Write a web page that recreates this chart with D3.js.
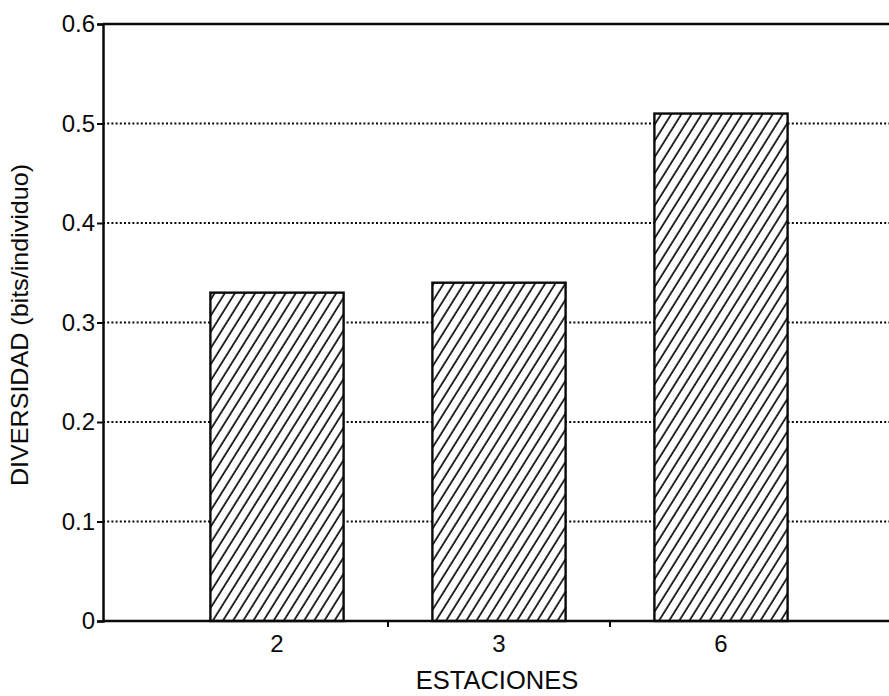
<!DOCTYPE html>
<html>
<head>
<meta charset="utf-8">
<script src="https://cdn.jsdelivr.net/npm/d3@7"></script>
<style>
  html, body { margin: 0; padding: 0; background: #fff; }
  svg { display: block; }
  text { font-family: "Liberation Sans", Arial, Helvetica, sans-serif; fill: #0a0a0a; }
</style>
</head>
<body>
<svg id="chart" width="889" height="696"></svg>
<script>
// Diversidad por estación
const estaciones = ["2", "3", "6"];
const diversidad = [0.33, 0.34, 0.51];
const yTicks = [0, 0.1, 0.2, 0.3, 0.4, 0.5, 0.6];
const yTickLabels = ["0", "0.1", "0.2", "0.3", "0.4", "0.5", "0.6"];
const xTitle = "ESTACIONES";
const yTitle = "DIVERSIDAD (bits/individuo)";

const svg = d3.select("#chart");
const plotLeft = 103, plotRight = 889, plotTop = 24, plotBottom = 621;
const ink = "#0a0a0a";

const x = d3.scaleBand()
  .domain(estaciones)
  .range([166, 832])
  .paddingInner(0.4)
  .paddingOuter(0.2);

const y = d3.scaleLinear().domain([0, 0.6]).range([plotBottom, plotTop]);

// diagonal hatch fill
const defs = svg.append("defs");
defs.append("pattern")
  .attr("id", "hatch")
  .attr("patternUnits", "userSpaceOnUse")
  .attr("width", 8.6)
  .attr("height", 8.6)
  .attr("patternTransform", "rotate(32)")
  .append("line")
  .attr("x1", 2).attr("y1", -2)
  .attr("x2", 2).attr("y2", 12)
  .attr("stroke", ink)
  .attr("stroke-width", 1.7);

// dotted gridlines
svg.append("g")
  .selectAll("line")
  .data(yTicks.filter(v => v > 0 && v < 0.6))
  .join("line")
  .attr("x1", plotLeft).attr("x2", plotRight)
  .attr("y1", d => y(d)).attr("y2", d => y(d))
  .attr("stroke", ink)
  .attr("stroke-width", 2)
  .attr("stroke-dasharray", "2,2.2");

// top frame line
svg.append("line")
  .attr("x1", plotLeft).attr("x2", plotRight)
  .attr("y1", y(0.6)).attr("y2", y(0.6))
  .attr("stroke", ink).attr("stroke-width", 2.5);

const barData = estaciones.map((e, i) => ({ e, v: diversidad[i] }));

// bars: white base, then hatch with outline
svg.append("g")
  .selectAll("rect")
  .data(barData)
  .join("rect")
  .attr("x", d => x(d.e))
  .attr("y", d => y(d.v))
  .attr("width", x.bandwidth())
  .attr("height", d => y(0) - y(d.v))
  .attr("fill", "#fff");

svg.append("g")
  .selectAll("rect")
  .data(barData)
  .join("rect")
  .attr("x", d => x(d.e))
  .attr("y", d => y(d.v))
  .attr("width", x.bandwidth())
  .attr("height", d => y(0) - y(d.v))
  .attr("fill", "url(#hatch)")
  .attr("stroke", ink)
  .attr("stroke-width", 2.4);

// y axis
const yAxis = d3.axisLeft(y)
  .tickValues(yTicks)
  .tickFormat((d, i) => yTickLabels[i])
  .tickSize(6)
  .tickPadding(2);
const gy = svg.append("g").attr("transform", `translate(${plotLeft},0)`).call(yAxis);
gy.select(".domain").attr("stroke", ink).attr("stroke-width", 2.5);
gy.selectAll(".tick line").attr("stroke", ink).attr("stroke-width", 2);
gy.selectAll(".tick text")
  .attr("font-size", 24)
  .attr("font-family", "Liberation Sans, Arial, sans-serif")
  .attr("fill", ink);

// x axis: baseline with ticks between stations
svg.append("line")
  .attr("x1", plotLeft).attr("x2", plotRight)
  .attr("y1", plotBottom).attr("y2", plotBottom)
  .attr("stroke", ink).attr("stroke-width", 2.5);

const boundaries = estaciones.slice(1).map(e => x(e) - x.step() * x.paddingInner() / 2);
svg.append("g")
  .selectAll("line")
  .data(boundaries)
  .join("line")
  .attr("x1", d => d).attr("x2", d => d)
  .attr("y1", plotBottom).attr("y2", plotBottom + 6)
  .attr("stroke", ink).attr("stroke-width", 2);

svg.append("g")
  .selectAll("text")
  .data(estaciones)
  .join("text")
  .attr("x", d => x(d) + x.bandwidth() / 2)
  .attr("y", 652)
  .attr("text-anchor", "middle")
  .attr("font-size", 24)
  .text(d => d);

// axis titles
svg.append("text")
  .attr("x", 497)
  .attr("y", 689)
  .attr("text-anchor", "middle")
  .attr("font-size", 25.5)
  .text(xTitle);

svg.append("text")
  .attr("transform", "translate(28,325) rotate(-90)")
  .attr("text-anchor", "middle")
  .attr("font-size", 24)
  .attr("textLength", 322)
  .attr("lengthAdjust", "spacingAndGlyphs")
  .text(yTitle);
</script>
</body>
</html>
